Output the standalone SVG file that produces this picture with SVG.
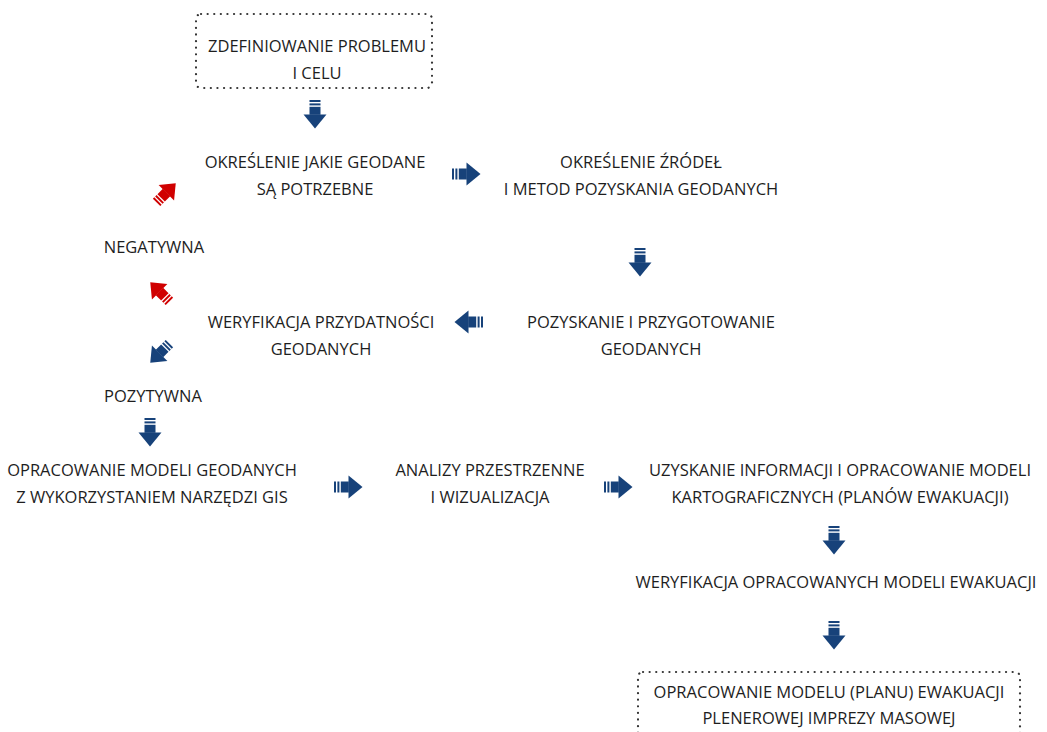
<svg xmlns="http://www.w3.org/2000/svg" width="1047" height="732" viewBox="0 0 1047 732">
<style>
text{font-family:"Open Sans","Noto Sans","DejaVu Sans",sans-serif;font-size:16.5px;fill:#1e1e1e;text-anchor:middle}
.box{fill:none;stroke:#333;stroke-width:2.2;stroke-dasharray:0.1 6.5;stroke-linecap:round}
.blue{fill:#17427a}
.red{fill:#d00000}
</style>
<defs>
<g id="arr">
<rect x="-5.5" y="-14" width="11" height="2"/>
<rect x="-5.5" y="-10.6" width="11" height="2"/>
<rect x="-5.5" y="-7.2" width="11" height="8"/>
<polygon points="-11.5,0.5 11.5,0.5 0,14.5"/>
</g>
</defs>
<rect width="1047" height="732" fill="#fff"/>
<g id="n1">
<rect class="box" x="196" y="14" width="236" height="74" rx="5"/>
<text x="317" y="52">ZDEFINIOWANIE PROBLEMU</text>
<text x="317" y="79">I CELU</text>
</g>
<g id="n2">
<text x="315" y="168">OKREŚLENIE JAKIE GEODANE</text>
<text x="315" y="195">SĄ POTRZEBNE</text>
</g>
<g id="n3">
<text x="641" y="168">OKREŚLENIE ŹRÓDEŁ</text>
<text x="641" y="195">I METOD POZYSKANIA GEODANYCH</text>
</g>
<g id="n4">
<text x="154" y="253">NEGATYWNA</text>
</g>
<g id="n5">
<text x="321" y="328">WERYFIKACJA PRZYDATNOŚCI</text>
<text x="321" y="355">GEODANYCH</text>
</g>
<g id="n6">
<text x="651" y="328">POZYSKANIE I PRZYGOTOWANIE</text>
<text x="651" y="355">GEODANYCH</text>
</g>
<g id="n7">
<text x="153" y="402">POZYTYWNA</text>
</g>
<g id="n8">
<text x="152" y="476">OPRACOWANIE MODELI GEODANYCH</text>
<text x="152" y="503">Z WYKORZYSTANIEM NARZĘDZI GIS</text>
</g>
<g id="n9">
<text x="490" y="476">ANALIZY PRZESTRZENNE</text>
<text x="490" y="503">I WIZUALIZACJA</text>
</g>
<g id="n10">
<text x="840" y="476">UZYSKANIE INFORMACJI I OPRACOWANIE MODELI</text>
<text x="840" y="503">KARTOGRAFICZNYCH (PLANÓW EWAKUACJI)</text>
</g>
<g id="n11">
<text x="836" y="588">WERYFIKACJA OPRACOWANYCH MODELI EWAKUACJI</text>
</g>
<g id="n12">
<rect class="box" x="638" y="672" width="382" height="90" rx="5"/>
<text x="829" y="698">OPRACOWANIE MODELU (PLANU) EWAKUACJI</text>
<text x="829" y="724">PLENEROWEJ IMPREZY MASOWEJ</text>
</g>
<g id="connectors">
<use href="#arr" class="blue" transform="translate(315,114)"/>
<use href="#arr" class="blue" transform="translate(466,174) rotate(-90)"/>
<use href="#arr" class="blue" transform="translate(640,262)"/>
<use href="#arr" class="blue" transform="translate(469,322) rotate(90)"/>
<use href="#arr" class="red" transform="translate(166,193) rotate(-135) scale(0.95)"/>
<use href="#arr" class="red" transform="translate(160,292) rotate(135) scale(0.95)"/>
<use href="#arr" class="blue" transform="translate(160,353) rotate(45) scale(0.95)"/>
<use href="#arr" class="blue" transform="translate(150,432)"/>
<use href="#arr" class="blue" transform="translate(348,487) rotate(-90)"/>
<use href="#arr" class="blue" transform="translate(618,487) rotate(-90)"/>
<use href="#arr" class="blue" transform="translate(834,540)"/>
<use href="#arr" class="blue" transform="translate(834,635)"/>
</g>
</svg>
